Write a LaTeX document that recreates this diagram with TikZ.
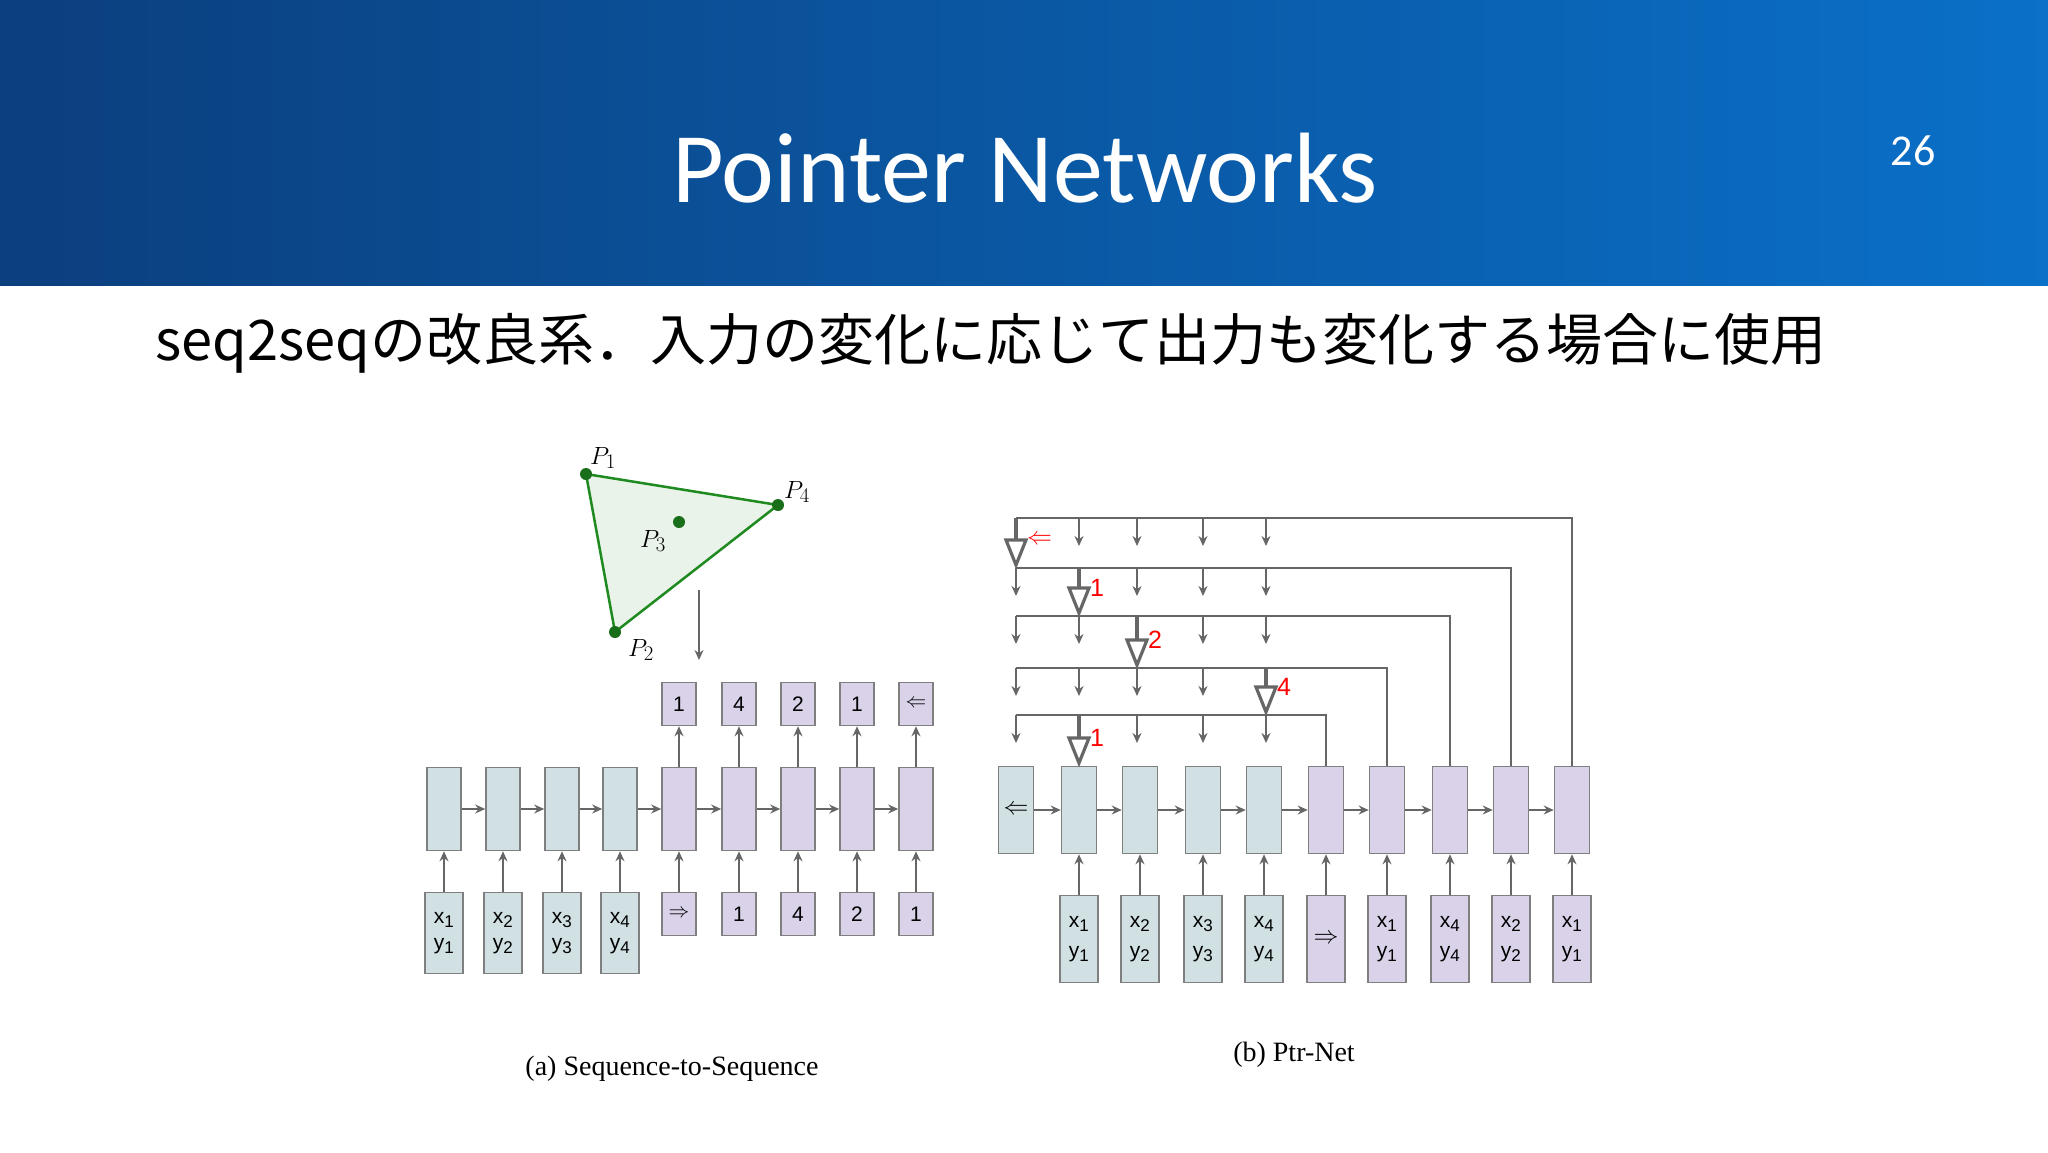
\documentclass[tikz,border=0pt]{standalone}
\usepackage{fontspec}
\setmainfont{Carlito}
\setsansfont{Liberation Sans}
\newfontfamily\cjk{Noto Sans CJK JP}
\newfontfamily\capfont{Liberation Serif}
\usetikzlibrary{arrows.meta}
\definecolor{cellA}{HTML}{D0E0E3}
\definecolor{cellB}{HTML}{D9D2E9}
\definecolor{edge}{HTML}{7F7F7F}
\definecolor{arrc}{HTML}{666666}
\definecolor{hdrL}{HTML}{0B3F7E}
\definecolor{hdrR}{HTML}{0A70C8}
\definecolor{tri}{HTML}{1F8A1F}
\newcommand{\sub}[1]{\textsubscript{\fontsize{17}{18}\selectfont #1}}
\begin{document}
\begin{tikzpicture}[x=1pt,y=-1pt,
  cA/.style={draw=edge,line width=1.6pt,fill=cellA,inner sep=0pt,font=\sffamily\fontsize{21}{22}\selectfont,align=center},
  cB/.style={draw=edge,line width=1.6pt,fill=cellB,inner sep=0pt,font=\sffamily\fontsize{21}{22}\selectfont,align=center},
  arr/.style={draw=arrc,line width=1.8pt,-{Stealth[length=10pt,width=9pt]}},
  ln/.style={draw=arrc,line width=1.8pt},
  red/.style={text=red,font=\sffamily\fontsize{25}{26}\selectfont}]
\useasboundingbox (0,0) rectangle (2048,1152);
\fill[white] (0,0) rectangle (2048,1152);
\shade[left color=hdrL,right color=hdrR] (0,0) rectangle (2048,285);
\node[white,font=\fontsize{100}{110}\selectfont] (title) at (1025,168) {Pointer Networks};
\node[white,font=\fontsize{44}{48}\selectfont] (num) at (1913,151) {26};
\node[anchor=west,font=\cjk\fontsize{56}{64}\selectfont] (sub) at (152,343) {seq2seqの改良系．入力の変化に応じて出力も変化する場合に使用};

% triangle
\coordinate (P1) at (586,474); \coordinate (P4) at (778,505); \coordinate (P2) at (615,632);
\filldraw[draw=tri,line width=2.5pt,fill=tri!10] (P1) -- (P4) -- (P2) -- cycle;
\foreach \p in {P1,P2,P4} \fill[tri!80!black] (\p) circle (6pt);
\fill[tri!80!black] (679,522) circle (6pt);
\node (lP1) at (603,458) {\fontsize{30}{32}\selectfont$P_1$};
\node (lP4) at (797,492) {\fontsize{30}{32}\selectfont$P_4$};
\node (lP3) at (653,541) {\fontsize{30}{32}\selectfont$P_3$};
\node (lP2) at (641,650) {\fontsize{30}{32}\selectfont$P_2$};
\coordinate (ta) at (699,590); \coordinate (tb) at (699,660);
\draw[arr,line width=1.4pt] (ta) -- (tb);

% left seq2seq
\foreach \i/\x in {1/444,2/503,3/562,4/620}{
  \node[cA,minimum width=34pt,minimum height=83pt] (L\i) at (\x,809) {};
}
\foreach \i/\x in {5/679,6/739,7/798,8/857,9/916}{
  \node[cB,minimum width=34pt,minimum height=83pt] (L\i) at (\x,809) {};
}
\foreach \i/\x/\t in {1/444/1,2/503/2,3/562/3,4/620/4}{
  \node[cA,minimum width=38pt,minimum height=81pt] (I\i) at (\x,933) {x\sub{\t}\\[4pt]y\sub{\t}};
}
\foreach \i/\x/\t in {5/679/$\Rightarrow$,6/739/1,7/798/4,8/857/2,9/916/1}{
  \node[cB,minimum width=34pt,minimum height=43pt] (I\i) at (\x,914) {\t};
}
\foreach \i/\x/\t in {5/679/1,6/739/4,7/798/2,8/857/1,9/916/$\Leftarrow$}{
  \node[cB,minimum width=34pt,minimum height=43pt] (O\i) at (\x,704) {\t};
  \draw[arr] (L\i.north) -- (O\i.south);
}
\foreach \i in {1,...,9} \draw[arr] (I\i.north) -- (L\i.south);
\foreach \i [evaluate=\i as \j using int(\i+1)] in {1,...,8} \draw[arr] (L\i.east) -- (L\j.west);
\node[font=\capfont\fontsize{28}{30}\selectfont] (capa) at (672,1069) {(a) Sequence-to-Sequence};

% right ptr-net
\foreach \i/\x in {1/1016,2/1079,3/1140,4/1203,5/1264}{
  \node[cA,minimum width=35pt,minimum height=87pt] (R\i) at (\x,810) {};
}
\foreach \i/\x in {6/1326,7/1387,8/1450,9/1511,10/1572}{
  \node[cB,minimum width=35pt,minimum height=87pt] (R\i) at (\x,810) {};
}
\node[font=\fontsize{26}{28}\selectfont] (lt) at (R1) {$\Leftarrow$};
\foreach \i/\x/\a in {2/1079/1,3/1140/2,4/1203/3,5/1264/4}{
  \node[cA,minimum width=38pt,minimum height=87pt] (J\i) at (\x,939) {x\sub{\a}\\[8pt]y\sub{\a}};
}
\foreach \i/\x/\a in {7/1387/1,8/1450/4,9/1511/2,10/1572/1}{
  \node[cB,minimum width=38pt,minimum height=87pt] (J\i) at (\x,939) {x\sub{\a}\\[8pt]y\sub{\a}};
}
\node[cB,minimum width=38pt,minimum height=87pt,font=\fontsize{26}{28}\selectfont] (J6) at (1326,939) {$\Rightarrow$};
\foreach \i in {2,...,10} \draw[arr] (J\i.north) -- (R\i.south);
\foreach \i [evaluate=\i as \j using int(\i+1)] in {1,...,9} \draw[arr] (R\i.east) -- (R\j.west);

% pointer lines
\foreach \k/\y/\c in {1/518/10,2/568/9,3/616/8,4/668/7,5/715/6}{
  \coordinate (h\k) at (1016,\y);
  \draw[ln] (R\c.north) |- (h\k);
}
% small arrows
\foreach \k/\y/\s in {1/518/1,2/568/2,3/616/3,4/668/5,5/715/2}{
  \foreach \c/\x in {1/1016,2/1079,3/1137,4/1203,5/1266}{
    \ifnum\c=\s\relax\else
      \draw[arr] (\x,\y) -- ++(0,28);
    \fi
  }
}
% big hollow pointer arrows
\foreach \x/\ya/\yb/\t in {1016/518/568/{$\Leftarrow$},1079/568/616/1,1137/616/668/2,1266/668/715/4,1079/715/766/1}{
  \draw[ln,line width=3.2pt] (\x,\ya) -- (\x,\yb-22);
  \draw[draw=arrc,line width=3.2pt,fill=white,line join=miter] (\x-10,\yb-28) -- (\x+10,\yb-28) -- (\x,\yb-3) -- cycle;
  \node[red,anchor=west,inner sep=1pt] at (\x+10,\yb-28) {\t};
}
\node[font=\capfont\fontsize{28}{30}\selectfont] (capb) at (1294,1055) {(b) Ptr-Net};
\end{tikzpicture}
\end{document}
